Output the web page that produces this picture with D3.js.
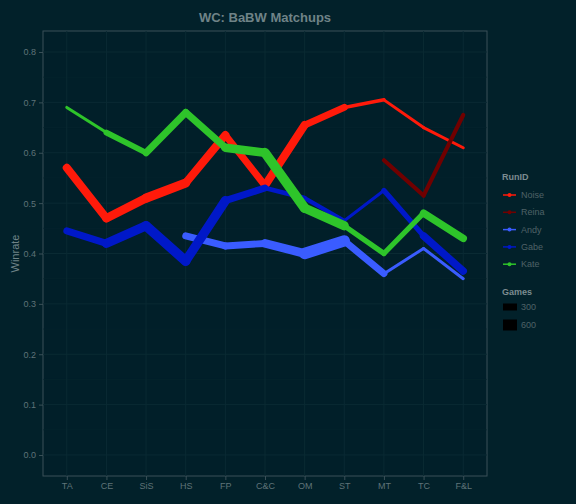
<!DOCTYPE html>
<html><head><meta charset="utf-8">
<script src="https://cdn.jsdelivr.net/npm/d3@7"></script>
<style>body{margin:0;background:#02212a;}svg{font-family:"Liberation Sans",Arial,sans-serif;}</style>
</head><body><div id="chart"></div>
<script>
const categories = ["TA","CE","SiS","HS","FP","C&C","OM","ST","MT","TC","F&L"];
const yTicks = [0.0,0.1,0.2,0.3,0.4,0.5,0.6,0.7,0.8];
const runIds = ["Noise","Reina","Andy","Gabe","Kate"];
const colors = ["#ff1a0a","#700000","#3a5cff","#0018c8","#2ec42a"];
const winrates = [
  [0.57,0.47,0.51,0.54,0.635,0.535,0.655,0.69,0.705,0.65,0.61],
  [null,null,null,null,null,null,null,null,0.585,0.515,0.675],
  [null,null,null,0.435,0.415,0.42,0.40,0.425,0.36,0.41,0.35],
  [0.445,0.42,0.455,0.385,0.505,0.53,0.51,0.465,0.525,0.435,0.365],
  [0.69,0.64,0.60,0.68,0.61,0.60,0.49,0.455,0.40,0.48,0.43]
];
const games = [
  [500,450,550,500,450,400,550,300,250,250,250],
  [null,null,null,null,null,null,null,null,300,300,300],
  [null,null,null,350,500,350,650,600,250,250,250],
  [400,450,600,500,550,300,350,250,250,450,450],
  [250,250,500,350,500,500,600,450,250,450,450]
];

const W = 576, H = 504;
const m = {l:43, r:89, t:31, b:28};
const svg = d3.select('#chart').append('svg').attr('width', W).attr('height', H);
svg.append('rect').attr('width', W).attr('height', H).attr('fill', '#02212a');

const x = d3.scalePoint().domain(categories).range([m.l, W - m.r]).padding(0.6);
const y = d3.scaleLinear().domain([-0.0417, 0.8417]).range([H - m.b, m.t]);
const size = d3.scaleLinear().domain([250, 650]).range([3, 12]);

const g = svg.append('g');
g.append('rect').attr('x', m.l).attr('y', m.t).attr('width', W - m.l - m.r).attr('height', H - m.t - m.b)
  .attr('fill', '#011f29').attr('stroke', '#3a5058');
// minor grid
yTicks.slice(0, -1).forEach(t => g.append('line').attr('x1', m.l).attr('x2', W - m.r)
  .attr('y1', y(t + 0.05)).attr('y2', y(t + 0.05)).attr('stroke', '#06252e').attr('stroke-width', 0.6));
yTicks.forEach(t => g.append('line').attr('x1', m.l).attr('x2', W - m.r)
  .attr('y1', y(t)).attr('y2', y(t)).attr('stroke', '#0a2a33').attr('stroke-width', 1));
categories.forEach(c => g.append('line').attr('y1', m.t).attr('y2', H - m.b)
  .attr('x1', x(c)).attr('x2', x(c)).attr('stroke', '#0a2a33').attr('stroke-width', 1));

const yAxis = svg.append('g').attr('transform', `translate(${m.l},0)`)
  .call(d3.axisLeft(y).tickValues(yTicks).tickFormat(d3.format('.1f')).tickSize(4));
const xAxis = svg.append('g').attr('transform', `translate(0,${H - m.b})`)
  .call(d3.axisBottom(x).tickSize(4));
[xAxis, yAxis].forEach(a => {
  a.select('.domain').remove();
  a.selectAll('line').attr('stroke', '#3a5058');
  a.selectAll('text').attr('fill', '#5f7378').style('font-size', '9px');
});

// series drawn segment by segment so width follows games
runIds.forEach((id, s) => {
  const pts = categories.map((c, i) => ({c, v: winrates[s][i], n: games[s][i]})).filter(p => p.v != null);
  for (let i = 0; i < pts.length - 1; i++) {
    svg.append('line')
      .attr('x1', x(pts[i].c)).attr('y1', y(pts[i].v))
      .attr('x2', x(pts[i+1].c)).attr('y2', y(pts[i+1].v))
      .attr('stroke', colors[s]).attr('stroke-width', size((pts[i].n + pts[i+1].n) / 2))
      .attr('stroke-linecap', 'round');
  }
});

svg.append('text').attr('x', (m.l + W - m.r) / 2).attr('y', 22).attr('text-anchor', 'middle')
  .attr('fill', '#6f8387').style('font-size', '13px').style('font-weight', 'bold').text('WC: BaBW Matchups');
svg.append('text').attr('transform', `translate(19,${(m.t + H - m.b) / 2}) rotate(-90)`)
  .attr('text-anchor', 'middle').attr('fill', '#6f8387').style('font-size', '11px').text('Winrate');

// legend
const lg = svg.append('g').attr('transform', 'translate(502,0)');
lg.append('text').attr('x', 0).attr('y', 180).attr('fill', '#7c8c90').style('font-size', '9px').style('font-weight', 'bold').text('RunID');
runIds.forEach((id, i) => {
  const yy = 195 + i * 17.3;
  lg.append('line').attr('x1', 1).attr('x2', 14).attr('y1', yy).attr('y2', yy).attr('stroke', colors[i]).attr('stroke-width', 1.5);
  lg.append('circle').attr('cx', 7.5).attr('cy', yy).attr('r', 2).attr('fill', colors[i]);
  lg.append('text').attr('x', 19).attr('y', yy + 3).attr('fill', '#4f6267').style('font-size', '9px').text(id);
});
lg.append('text').attr('x', 0).attr('y', 295).attr('fill', '#7c8c90').style('font-size', '9px').style('font-weight', 'bold').text('Games');
[[300, 307, 7], [600, 325, 11]].forEach(([n, yy, h]) => {
  lg.append('rect').attr('x', 1).attr('y', yy - h / 2).attr('width', 14).attr('height', h).attr('fill', '#000');
  lg.append('text').attr('x', 19).attr('y', yy + 3).attr('fill', '#4f6267').style('font-size', '9px').text(n);
});
</script></body></html>
